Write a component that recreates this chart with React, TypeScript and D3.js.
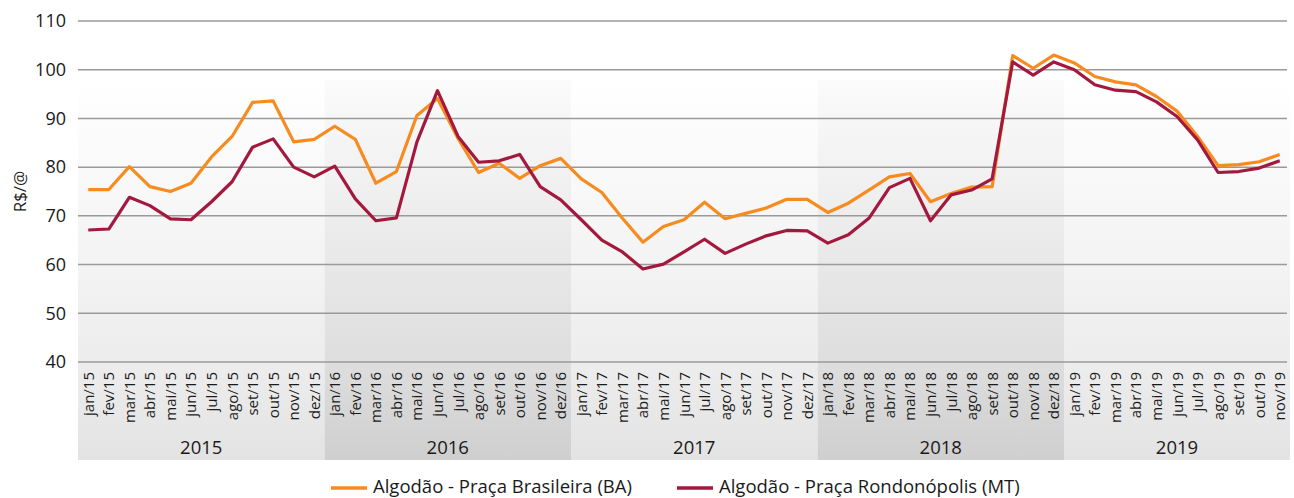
import React from 'react';
import * as d3 from 'd3';

const months = ['jan', 'fev', 'mar', 'abr', 'mai', 'jun', 'jul', 'ago', 'set', 'out', 'nov', 'dez'];
const years = ['2015', '2016', '2017', '2018', '2019'];

// jan/15 .. nov/19
const labels: string[] = [];
years.forEach(y => months.forEach(m => labels.push(`${m}/${y.slice(2)}`)));
labels.splice(59);

const brasileira = [
  75.4, 75.4, 80.1, 76.0, 75.0, 76.7, 82.1, 86.3, 93.3, 93.6, 85.2, 85.7,
  88.4, 85.7, 76.7, 79.1, 90.6, 94.1, 85.9, 78.9, 80.8, 77.7, 80.3, 81.8,
  77.6, 74.8, 69.5, 64.6, 67.8, 69.2, 72.8, 69.4, 70.5, 71.6, 73.4, 73.4,
  70.7, 72.6, 75.3, 78.0, 78.7, 72.9, 74.6, 75.9, 76.0, 102.9, 100.3, 103.0,
  101.4, 98.6, 97.5, 96.9, 94.5, 91.5, 86.3, 80.3, 80.5, 81.1, 82.6,
];

const rondonopolis = [
  67.1, 67.3, 73.8, 72.1, 69.4, 69.2, 72.9, 77.0, 84.1, 85.8, 80.0, 78.0,
  80.2, 73.5, 69.0, 69.6, 85.2, 95.7, 86.3, 81.0, 81.3, 82.6, 76.0, 73.3,
  69.2, 65.0, 62.6, 59.1, 60.1, 62.6, 65.2, 62.3, 64.2, 65.9, 67.0, 66.9,
  64.4, 66.1, 69.5, 75.8, 77.7, 69.0, 74.3, 75.3, 77.6, 101.6, 98.9, 101.6,
  100.0, 96.9, 95.8, 95.5, 93.4, 90.4, 85.6, 78.9, 79.1, 79.8, 81.3,
];

const yTicks = [40, 50, 60, 70, 80, 90, 100, 110];

const seriesNames = ['Algodão - Praça Brasileira (BA)', 'Algodão - Praça Rondonópolis (MT)'];
const colors = ['#f68b1f', '#a3193e'];

const W = 1294;
const H = 498;
const left = 78;
const right = 1290;
const bandTop = 80;
const bandBottom = 460;
const font = "'Open Sans', sans-serif";

export default function App() {
  const x = d3.scaleBand<string>().domain(labels).range([left, right]);
  const y = d3.scaleLinear().domain([40, 110]).range([362, 21]);
  const cx = (i: number) => (x(labels[i]) as number) + x.bandwidth() / 2;

  const line = d3
    .line<number>()
    .x((_, i) => cx(i))
    .y(d => y(d));

  const yearBands = years.map((yr, k) => {
    const first = k * 12;
    const last = Math.min(first + 11, labels.length - 1);
    const x0 = x(labels[first]) as number;
    const x1 = (x(labels[last]) as number) + x.bandwidth();
    return { yr, x0, x1, dark: k % 2 === 1 };
  });

  return (
    <svg width={W} height={H} style={{ position: 'absolute', left: 0, top: 0 }} fontFamily={font}>
      <defs>
        <linearGradient id="gLight" x1="0" y1="0" x2="0" y2="1">
          <stop offset="0" stopColor="#ffffff" />
          <stop offset="0.74" stopColor="#ededed" />
          <stop offset="1" stopColor="#e3e3e3" />
        </linearGradient>
        <linearGradient id="gDark" x1="0" y1="0" x2="0" y2="1">
          <stop offset="0" stopColor="#fbfbfb" />
          <stop offset="0.74" stopColor="#dedede" />
          <stop offset="1" stopColor="#cfcfcf" />
        </linearGradient>
      </defs>

      {yearBands.map(b => (
        <rect key={b.yr} x={b.x0} y={bandTop} width={b.x1 - b.x0} height={bandBottom - bandTop}
          fill={b.dark ? 'url(#gDark)' : 'url(#gLight)'} />
      ))}

      {yTicks.map(t => (
        <g key={t}>
          <line x1={left} x2={1287} y1={y(t)} y2={y(t)} stroke="#9a9a9a" strokeWidth={1.5} />
          <text x={66} y={y(t)} dy="0.35em" textAnchor="end" fontSize={18} fill="#1a1a1a">{t}</text>
        </g>
      ))}

      <text transform={`translate(26, ${y(75)}) rotate(-90)`} textAnchor="middle" fontSize={17} fill="#1a1a1a">R$/@</text>

      {labels.map((l, i) => (
        <text key={l} transform={`translate(${cx(i) + 5.5}, 372) rotate(-90)`} textAnchor="end"
          fontSize={15} fill="#1a1a1a">{l}</text>
      ))}

      {yearBands.map(b => (
        <text key={b.yr} x={(b.x0 + b.x1) / 2} y={454} textAnchor="middle" fontSize={18.5} fill="#1a1a1a">{b.yr}</text>
      ))}

      <path d={line(brasileira) ?? ''} fill="none" stroke={colors[0]} strokeWidth={3.2} strokeLinejoin="round" />
      <path d={line(rondonopolis) ?? ''} fill="none" stroke={colors[1]} strokeWidth={3.2} strokeLinejoin="round" />

      {/* legend */}
      {[331, 677].map((lx, i) => (
        <g key={seriesNames[i]}>
          <line x1={lx} x2={lx + 36} y1={488} y2={488} stroke={colors[i]} strokeWidth={3.5} />
          <text x={lx + 42} y={487} dy="0.35em" fontSize={18.5} fill="#1a1a1a">{seriesNames[i]}</text>
        </g>
      ))}
    </svg>
  );
}
